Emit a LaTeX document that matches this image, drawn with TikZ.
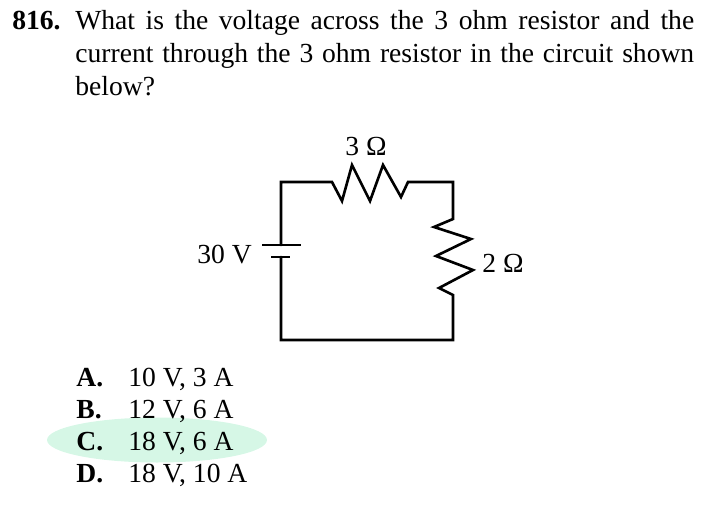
\documentclass[tikz,border=0pt]{standalone}
\usepackage{fontspec}
\setmainfont{Liberation Serif}
\usetikzlibrary{shapes.geometric}
\definecolor{hlgreen}{HTML}{D6F7E6}
\tikzset{
    txt/.style={anchor=base west,inner sep=0pt,font=\fontsize{15.7}{18.7}\selectfont},
    bold/.style={txt,font=\fontsize{15.7}{18.7}\bfseries\selectfont},
    wire/.style={line width=1.5pt,line join=miter,line cap=round},
    plate/.style={line width=1.3pt}
}
\begin{document}
\begin{tikzpicture}[x=0.02cm,y=-0.02cm]

    \useasboundingbox (0,0) rectangle (709,504);

    \node[ellipse,fill=hlgreen,minimum width=4.4cm,minimum height=0.9cm,inner sep=0pt] (hl) at (157,440) {};

    \node[bold] (num) at (12,29) {816.};
    \node[txt] (q1) at (75,29) {\makebox[12.38cm][s]{What is the voltage across the 3 ohm resistor and the}};
    \node[txt] (q2) at (75,62) {\makebox[12.38cm][s]{current through the 3 ohm resistor in the circuit shown}};
    \node[txt] (q3) at (75,95) {below?};

    \coordinate (tl) at (281,182);
    \coordinate (tr) at (453,182);
    \coordinate (bl) at (281,340);
    \coordinate (br) at (453,340);
    \coordinate (r3a) at (332,182);
    \coordinate (r3b) at (408,182);
    \coordinate (r2a) at (453,219);
    \coordinate (r2b) at (453,295);
    \coordinate (bp) at (281,245);
    \coordinate (bn) at (281,257);

    \draw[wire] (bp) -- (tl) -- (r3a) -- (342,201) -- (352,165) -- (370,201) -- (383,165) -- (401,197) -- (r3b) -- (tr) -- (r2a)
        -- (434,227) -- (471,239) -- (436,256) -- (473,270) -- (439,288) -- (r2b) -- (br) -- (bl) -- (bn);
    \draw[plate] (262,245) -- (301,245);
    \draw[plate] (271,257) -- (290,257);

    \node[txt] (l3) at (345,155) {3 Ω};
    \node[txt] (l2) at (482,272) {2 Ω};
    \node[txt] (lv) at (197,263) {30 V};

    \node[bold] (ca) at (76,386) {A.};
    \node[txt] (ta) at (128,386) {10 V, 3 A};
    \node[bold] (cb) at (76,418) {B.};
    \node[txt] (tb) at (128,418) {12 V, 6 A};
    \node[bold] (cc) at (76,450) {C.};
    \node[txt] (tc) at (128,450) {18 V, 6 A};
    \node[bold] (cd) at (76,482) {D.};
    \node[txt] (td) at (128,482) {18 V, 10 A};

\end{tikzpicture}
\end{document}
